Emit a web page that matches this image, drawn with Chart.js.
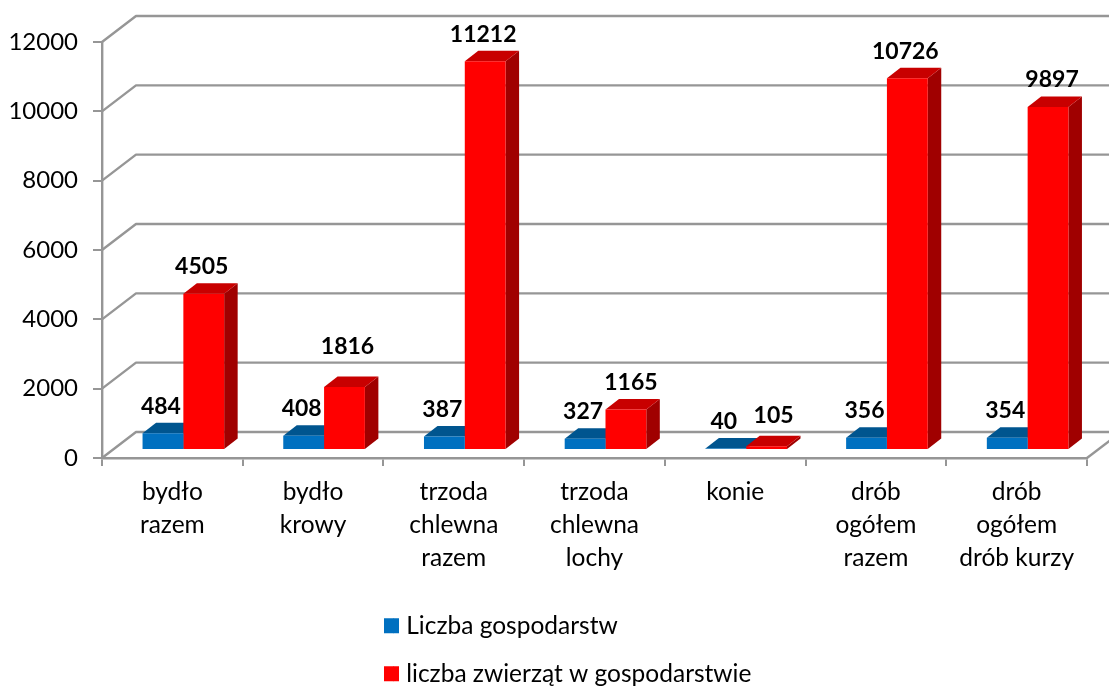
<!DOCTYPE html>
<html><head><meta charset="utf-8">
<style>html,body{margin:0;padding:0;background:#fff;overflow:hidden}#w{width:1109px;height:686px;position:relative}</style>
<script src="https://cdn.jsdelivr.net/npm/chart.js@4"></script>
</head><body><div id="w"><canvas id="c"></canvas></div>
<script>
const categories=[['bydło','razem'],['bydło','krowy'],['trzoda','chlewna','razem'],['trzoda','chlewna','lochy'],['konie'],['drób','ogółem','razem'],['drób','ogółem','drób kurzy']];
const seriesNames=['Liczba gospodarstw','liczba zwierząt w gospodarstwie'];
const households=[484,408,387,327,40,356,354];
const animals=[4505,1816,11212,1165,105,10726,9897];
const FONT='Lato, Carlito, Calibri, sans-serif';
const GRID='#969696';
const BACK={dx:34,dy:26};       // chart wall depth
const BAR={dx:11,dy:8};         // bar front offset inside the floor
const TOP={dx:13.5,dy:10.5};    // bar depth
const faces=[{top:'#00558f',side:'#00497c'},{top:'#c80000',side:'#a00000'}];
const fronts=['#0070c0','#ff0000'];
const nudge={'1-1':[5,-13],'1-3':[7,0],'1-4':[9,-4],'1-6':[6,0]};
const LEG={pad:23.5,item:24.5,box:15,drawn:10};
function poly(ctx,p,fill){ctx.fillStyle=fill;ctx.beginPath();p.forEach((q,i)=>i?ctx.lineTo(q[0],q[1]):ctx.moveTo(q[0],q[1]));ctx.closePath();ctx.fill();}
const depth={
 id:'depth',
 afterLayout(chart){
  const l=chart.legend;l.left=360.5;l.right=860;l.top=590;l.bottom=686;
 },
 beforeDatasetsDraw(chart){
  const ctx=chart.ctx,y=chart.scales.y,x=chart.scales.x,L=x.left;
  ctx.save();ctx.strokeStyle=GRID;ctx.lineWidth=2.4;ctx.lineJoin='round';
  y.ticks.forEach(t=>{const py=y.getPixelForValue(t.value);
   ctx.beginPath();ctx.moveTo(L,py);ctx.lineTo(L+BACK.dx,py-BACK.dy);ctx.lineTo(chart.width,py-BACK.dy);ctx.stroke();});
  const p0=y.getPixelForValue(0);
  ctx.beginPath();ctx.moveTo(x.right,p0);ctx.lineTo(x.right+BACK.dx,p0-BACK.dy);ctx.stroke();
  [0,1].forEach(d=>{
   chart.getDatasetMeta(d).data.forEach(b=>{
    const l=b.x-b.width/2+BAR.dx,r=b.x+b.width/2+BAR.dx,t=b.y-BAR.dy,bt=b.base-BAR.dy;
    poly(ctx,[[r,t],[r+TOP.dx,t-TOP.dy],[r+TOP.dx,bt-TOP.dy],[r,bt]],faces[d].side);
    poly(ctx,[[l,t],[l+TOP.dx,t-TOP.dy],[r+TOP.dx,t-TOP.dy],[r,t]],faces[d].top);
   });
  });
  ctx.restore();
  ctx.save();ctx.translate(BAR.dx,-BAR.dy);
 },
 afterDatasetsDraw(chart){
  const ctx=chart.ctx;ctx.restore();
  ctx.save();ctx.fillStyle='#000';ctx.font='bold 23px '+FONT;ctx.textAlign='center';ctx.textBaseline='middle';
  [households,animals].forEach((vals,d)=>{
   chart.getDatasetMeta(d).data.forEach((b,i)=>{
    const n=nudge[d+'-'+i]||[0,0];
    ctx.fillText(String(vals[i]),b.x+BAR.dx-2+n[0],b.y-BAR.dy-27+n[1]);
   });
  });
  ctx.restore();
 },
 afterDraw(chart){
  const ctx=chart.ctx,l=chart.legend;
  fronts.forEach((c,i)=>{
   ctx.fillStyle=c;
   ctx.fillRect(l.left+LEG.pad+LEG.drawn-0.5,l.top+LEG.pad+(LEG.item-LEG.box)/2+i*(LEG.item+LEG.pad),LEG.box-LEG.drawn+0.5,LEG.box);
  });
 }
};
new Chart(document.getElementById('c'),{
 type:'bar',
 data:{labels:categories,datasets:[
  {label:seriesNames[0],data:households,backgroundColor:fronts[0],borderWidth:0,clip:false},
  {label:seriesNames[1],data:animals,backgroundColor:fronts[1],borderWidth:0,clip:false}]},
 options:{
  responsive:true,maintainAspectRatio:false,animation:false,
  layout:{padding:{left:0,right:22,top:42,bottom:0}},
  categoryPercentage:0.58,barPercentage:1,
  scales:{
   x:{grid:{drawOnChartArea:false,color:GRID,lineWidth:2,tickLength:8,tickWidth:2},border:{color:GRID,width:2.4},
    ticks:{color:'#000',font:{family:FONT,size:24.5,lineHeight:1.343},padding:10,maxRotation:0,minRotation:0,autoSkip:false},
    afterFit(s){s.height=228-(s.chart.legend?s.chart.legend.height:0);}},
   y:{min:0,max:12000,grid:{drawOnChartArea:false,color:GRID,lineWidth:2,tickLength:9,tickWidth:2},border:{color:GRID,width:2.4},
    ticks:{stepSize:2000,color:'#000',font:{family:FONT,size:24},padding:15,callback:v=>String(v)},
    afterFit(s){s.width=102;}}
  },
  plugins:{
   legend:{position:'bottom',maxWidth:500,align:'start',
    labels:{color:'#000',font:{family:FONT,size:LEG.item},boxWidth:LEG.drawn,boxHeight:LEG.box,padding:LEG.pad}},
   tooltip:{enabled:false},title:{display:false}
  }
 },
 plugins:[depth]
});
</script></body></html>
